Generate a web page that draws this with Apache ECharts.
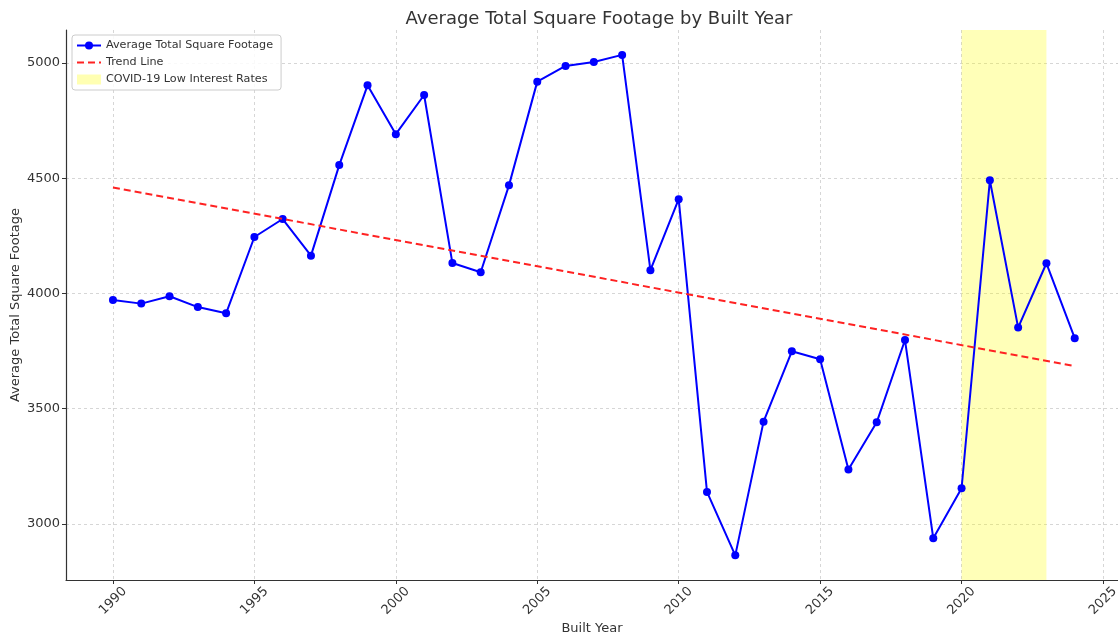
<!DOCTYPE html>
<html>
<head>
<meta charset="utf-8">
<script src="https://cdn.jsdelivr.net/npm/echarts@6/dist/echarts.min.js"></script>
<style>
html,body{margin:0;padding:0;background:#fff;}
#chart{width:1118px;height:637px;}
</style>
</head>
<body>
<div id="chart"></div>
<script>
const years = [1990,1991,1992,1993,1994,1995,1996,1997,1998,1999,2000,2001,2002,2003,2004,2005,2006,2007,2008,2009,2010,2011,2012,2013,2014,2015,2016,2017,2018,2019,2020,2021,2022,2023,2024];
const avgSqft = [3972,3956,3988,3941,3914,4245,4323,4164,4557,4903,4691,4861,4132,4092,4469,4919,4987,5004,5035,4101,4409,3139,2864,3444,3749,3715,3236,3441,3798,2938,3155,4491,3852,4131,3806];
const trendYears = [1990, 2024];
const trendValues = [4460, 3685];
const covidSpan = [2020, 2023];
const xTicks = [1990,1995,2000,2005,2010,2015,2020,2025];
const yTicks = [3000,3500,4000,4500,5000];

const FONT = 'DejaVu Sans';
const TXT = '#333333';

const chart = echarts.init(document.getElementById('chart'), null, {renderer:'canvas'});
chart.setOption({
  animation: false,
  backgroundColor: '#ffffff',
  title: {
    text: 'Average Total Square Footage by Built Year',
    left: 594, top: 5, textAlign: 'center',
    textStyle: {fontFamily: FONT, fontSize: 18, fontWeight: 'normal', color: TXT}
  },
  legend: {
    orient: 'vertical', left: 72, top: 35,
    padding: [5, 8, 5, 4],
    itemWidth: 24, itemHeight: 10, itemGap: 6,
    backgroundColor: 'rgba(255,255,255,0.85)',
    borderColor: '#cccccc', borderWidth: 1, borderRadius: 3,
    textStyle: {fontFamily: FONT, fontSize: 11.2, color: TXT},
    data: [
      {name: 'Average Total Square Footage'},
      {name: 'Trend Line', itemStyle: {opacity: 0}},
      {name: 'COVID-19 Low Interest Rates', icon: 'rect'}
    ]
  },
  grid: {left: 66, right: 0, top: 30, bottom: 57, containLabel: false, outerBoundsMode: 'none'},
  xAxis: {
    type: 'value', min: 1988.34, max: 2025.53,
    name: 'Built Year', nameLocation: 'middle', nameGap: 42, nameMoveOverlap: false,
    nameTextStyle: {fontFamily: FONT, fontSize: 13, color: TXT},
    axisLine: {show: true, onZero: false, lineStyle: {color: '#333', width: 1.2}},
    axisTick: {show: true, length: 4, lineStyle: {color: '#333'}, customValues: xTicks},
    axisLabel: {customValues: xTicks, rotate: 45, align: 'center', verticalAlign: 'middle', margin: 21,
      fontFamily: FONT, fontSize: 13, color: TXT, formatter: v => String(v)},
    splitLine: {show: true, lineStyle: {color: '#cccccc', width: 0.8, type: [3, 3]}}
  },
  yAxis: {
    type: 'value', min: 2757, max: 5143,
    name: 'Average Total Square Footage', nameLocation: 'middle', nameGap: 44, nameRotate: 90, nameMoveOverlap: false,
    nameTextStyle: {fontFamily: FONT, fontSize: 13, color: TXT},
    axisLine: {show: true, onZero: false, lineStyle: {color: '#333', width: 1.2}},
    axisTick: {show: true, length: 4, lineStyle: {color: '#333'}, customValues: yTicks},
    axisLabel: {customValues: yTicks, margin: 6, fontFamily: FONT, fontSize: 13, color: TXT, formatter: v => String(v)},
    splitLine: {show: true, lineStyle: {color: '#cccccc', width: 0.8, type: [3, 3]}}
  },
  series: [
    {
      name: 'COVID-19 Low Interest Rates', type: 'line', data: [],
      color: 'rgba(255,255,0,0.3)',
      itemStyle: {color: 'rgba(255,255,0,0.3)'},
      markArea: {silent: true, itemStyle: {color: 'rgba(255,255,0,0.28)'},
        data: [[{xAxis: covidSpan[0]}, {xAxis: covidSpan[1]}]]}
    },
    {
      name: 'Average Total Square Footage', type: 'line',
      data: years.map((y, i) => [y, avgSqft[i]]),
      color: '#0000ff',
      symbol: 'circle', symbolSize: 8, showSymbol: true,
      lineStyle: {color: '#0000ff', width: 2},
      itemStyle: {color: '#0000ff'},
      z: 3
    },
    {
      name: 'Trend Line', type: 'line',
      data: trendYears.map((y, i) => [y, trendValues[i]]),
      color: '#ff2222',
      symbol: 'none',
      lineStyle: {color: '#ff2222', width: 2, type: [7, 4]},
      z: 4
    }
  ]
});
</script>
</body>
</html>
